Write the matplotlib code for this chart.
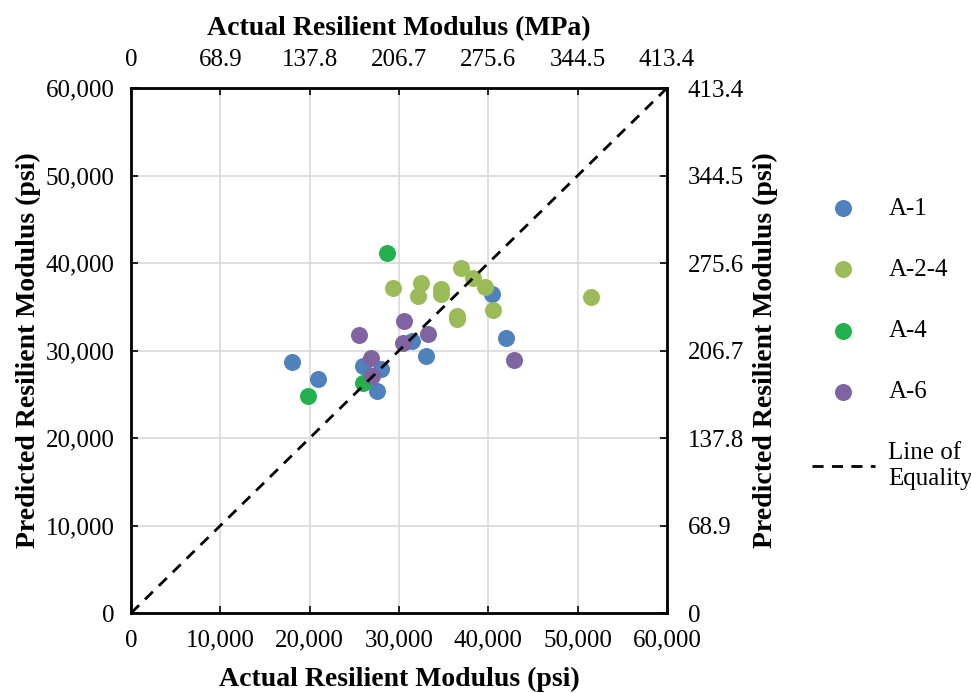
import matplotlib.pyplot as plt
from matplotlib.ticker import FuncFormatter

plt.rcParams['font.family'] = ['Liberation Serif', 'DejaVu Serif']

# actual (x) and predicted (y) resilient modulus, psi
a1_x = [40450, 41980, 17990, 20970, 26010, 27990, 27500, 31490, 33020]
a1_y = [36420, 31470, 28720, 26740, 28230, 27890, 25410, 31090, 29410]

a24_x = [36940, 38320, 39630, 29360, 32460, 32160, 34700, 34670, 36460, 36530, 40560, 51460]
a24_y = [39390, 38320, 37220, 37100, 37680, 36270, 37030, 36460, 33980, 33560, 34630, 36080]

a4_x = [28620, 19850, 25930]
a4_y = [41110, 24840, 26320]

a6_x = [25520, 30560, 33280, 30410, 26830, 26940, 42910]
a6_y = [31770, 33370, 31890, 30820, 29110, 27120, 28910]

psi_ticks = [0, 10000, 20000, 30000, 40000, 50000, 60000]
mpa_labels = ['0', '68.9', '137.8', '206.7', '275.6', '344.5', '413.4']

fig = plt.figure(figsize=(9.71, 6.93), dpi=100)
ax = fig.add_axes([0.135, 0.1154, 0.552, 0.7576])

s = 150
ax.scatter(a1_x, a1_y, s=s, color='#4F81BD', label='A-1', zorder=3, linewidths=0)
ax.scatter(a24_x, a24_y, s=s, color='#9BBB59', label='A-2-4', zorder=3, linewidths=0)
ax.scatter(a4_x, a4_y, s=s, color='#22B14C', label='A-4', zorder=3, linewidths=0)
ax.scatter(a6_x, a6_y, s=s, color='#8064A2', label='A-6', zorder=3, linewidths=0)
ax.plot([0, 60000], [0, 60000], ls='--', color='black', lw=2, dashes=(4, 3),
        label='Line of\nEquality', zorder=4)

ax.set_xlim(0, 60000)
ax.set_ylim(0, 60000)
ax.set_xticks(psi_ticks)
ax.set_yticks(psi_ticks)
fmt = FuncFormatter(lambda v, p: f'{int(v):,}')
ax.xaxis.set_major_formatter(fmt)
ax.yaxis.set_major_formatter(fmt)
ax.grid(True, color='#d9d9d9', lw=1.2, zorder=0)
ax.tick_params(axis='x', direction='in', length=5, width=1.2, labelsize=18, pad=12)
ax.tick_params(axis='y', direction='in', length=5, width=1.2, labelsize=18, pad=12)
for sp in ax.spines.values():
    sp.set_linewidth(2)

ax.set_xlabel('Actual Resilient Modulus (psi)', fontsize=20, fontweight='bold', labelpad=11)
ax.set_ylabel('Predicted Resilient Modulus (psi)', fontsize=20, fontweight='bold', labelpad=3)

# secondary axes in MPa
top = ax.twiny()
top.set_xlim(0, 60000)
top.set_xticks(psi_ticks)
top.set_xticklabels(mpa_labels)
top.tick_params(direction='in', length=5, width=1.2, labelsize=18, pad=12)
top.set_xlabel('Actual Resilient Modulus (MPa)', fontsize=20, fontweight='bold', labelpad=10)

right = ax.twinx()
right.set_ylim(0, 60000)
right.set_yticks(psi_ticks)
right.set_yticklabels(mpa_labels)
right.tick_params(direction='in', length=5, width=1.2, labelsize=18, pad=15)
right.set_ylabel('Predicted Resilient Modulus (psi)', fontsize=20, fontweight='bold', labelpad=6)

h, l = ax.get_legend_handles_labels()
fig.legend(h, l, loc='upper left', bbox_to_anchor=(0.826, 0.73), frameon=False,
           fontsize=18, labelspacing=1.55, handlelength=2.5, handletextpad=0.55,
           borderaxespad=0)

fig.savefig('out.png', dpi=100)
